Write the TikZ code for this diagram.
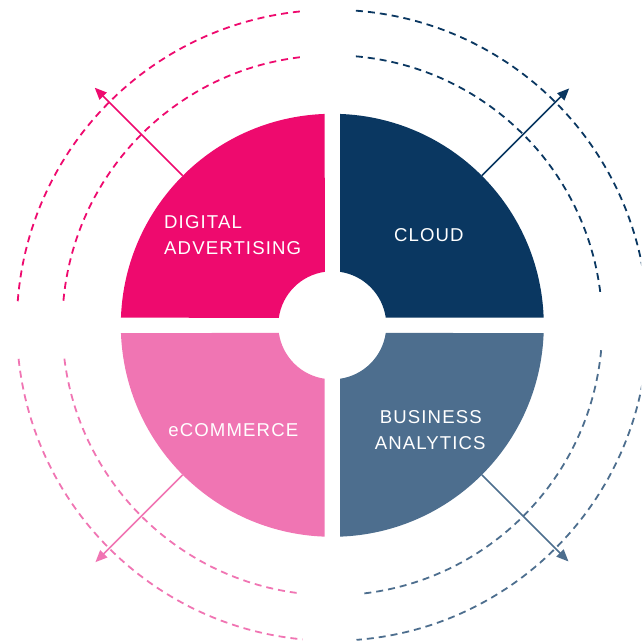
\documentclass[tikz,border=0pt]{standalone}
\usepackage{fontspec}
\usetikzlibrary{arrows.meta}
\newfontfamily\lblfont[LetterSpace=6]{Liberation Sans}
\definecolor{cMag}{HTML}{EE0A6E}
\definecolor{cNavy}{HTML}{0A3761}
\definecolor{cPink}{HTML}{F075B3}
\definecolor{cSteel}{HTML}{4D6E8E}
\tikzset{
  lbl/.style={text=white, inner sep=0pt, font=\lblfont\fontsize{18.6pt}{22pt}\selectfont},
  ring/.style={line width=1.8pt, dash pattern=on 7pt off 5pt},
  outarrow/.style={line width=1.6pt, -{Triangle[length=12pt,width=10pt]}, shorten <=0pt}
}
\begin{document}
\begin{tikzpicture}
\useasboundingbox (0pt,0pt) rectangle (641pt,642pt);
\clip (0pt,0pt) rectangle (641pt,642pt);
\coordinate (C) at (332.3pt,316.7pt);
\begin{scope}[shift={(C)}]
  % quadrants
  \fill[cMag] (177.91:211.5pt) arc[start angle=177.91,end angle=92.09,radius=211.5pt]
     -- (97.8:54pt) arc[start angle=97.8,end angle=172.2,radius=54pt] -- cycle;
  \fill[cNavy] (87.91:211.5pt) arc[start angle=87.91,end angle=2.09,radius=211.5pt]
     -- (8.2:54pt) arc[start angle=8.2,end angle=81.8,radius=54pt] -- cycle;
  \fill[cPink] (182.09:211.5pt) arc[start angle=182.09,end angle=267.91,radius=211.5pt]
     -- (261.8:54pt) arc[start angle=261.8,end angle=188.2,radius=54pt] -- cycle;
  \fill[cSteel] (-87.91:211.5pt) arc[start angle=-87.91,end angle=-2.09,radius=211.5pt]
     -- (-8.2:54pt) arc[start angle=-8.2,end angle=-81.8,radius=54pt] -- cycle;
  % dashed rings
  \draw[ring,cMag] (95.9:315.5pt) arc[start angle=95.9,end angle=175.8,radius=315.5pt];
  \draw[ring,cMag] (96.9:270pt) arc[start angle=96.9,end angle=175.1,radius=270pt];
  \draw[ring,cNavy] (85.7:315.5pt) arc[start angle=85.7,end angle=4,radius=315.5pt];
  \draw[ring,cNavy] (85:270pt) arc[start angle=85,end angle=6.6,radius=270pt];
  \draw[ring,cPink] (186.1:315.5pt) arc[start angle=186.1,end angle=264.6,radius=315.5pt];
  \draw[ring,cPink] (187.1:270pt) arc[start angle=187.1,end angle=262.4,radius=270pt];
  \draw[ring,cSteel] (-4:315.5pt) arc[start angle=-4,end angle=-85.6,radius=315.5pt];
  \draw[ring,cSteel] (-5.3:270pt) arc[start angle=-5.3,end angle=-83.8,radius=270pt];
  % arrow end points
  \coordinate (tls) at (135:211.5pt); \coordinate (tle) at (135:336pt);
  \coordinate (trs) at (45:211.5pt);  \coordinate (tre) at (45:335pt);
  \coordinate (bls) at (225:211.5pt); \coordinate (ble) at (225:335pt);
  \coordinate (brs) at (-45:211.5pt); \coordinate (bre) at (-45:334pt);
\end{scope}
\draw[outarrow,cMag] (tls) -- (tle);
\draw[outarrow,cNavy] (trs) -- (tre);
\draw[outarrow,cPink] (bls) -- (ble);
\draw[outarrow,cSteel] (brs) -- (bre);
% labels
\node[lbl,anchor=base west] (dig) at (164pt,413pt) {DIGITAL};
\node[lbl,anchor=base west] (adv) at (164pt,387pt) {ADVERTISING};
\node[lbl,anchor=base] (cloud) at (428.8pt,400.3pt) {CLOUD};
\node[lbl,anchor=base] (ecom) at (233.3pt,205.3pt) {eCOMMERCE};
\node[lbl,anchor=base] (bus) at (430.8pt,218pt) {BUSINESS};
\node[lbl,anchor=base] (ana) at (430.2pt,192.7pt) {ANALYTICS};
\end{tikzpicture}
\end{document}
